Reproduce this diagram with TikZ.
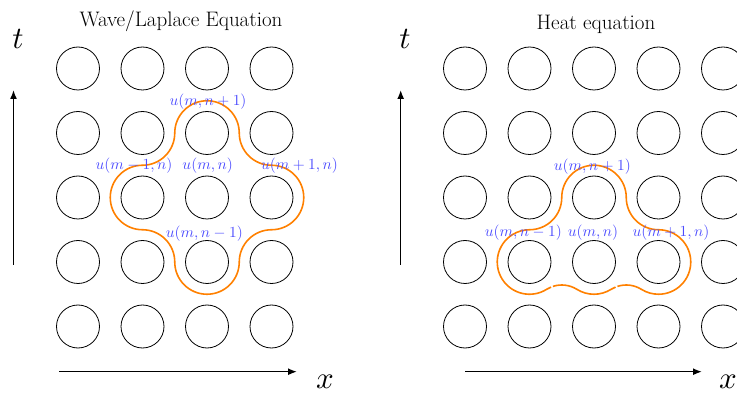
\documentclass[tikz,border=0pt]{standalone}
\usetikzlibrary{arrows.meta}
\DeclareFontShape{OML}{cmm}{m}{it}{<->cmmi10}{}
\DeclareFontShape{OT1}{cmr}{m}{n}{<->cmr10}{}
\DeclareFontShape{OMS}{cmsy}{m}{n}{<->cmsy10}{}
\DeclareFontShape{OMX}{cmex}{m}{n}{<->cmex10}{}
\begin{document}
\begin{tikzpicture}[x=1pt,y=1pt,
  dot/.style={draw=black,line width=0.8pt,circle,minimum size=43pt,inner sep=0pt},
  lab/.style={text=blue!70,font=\fontsize{15.4}{18}\selectfont,inner sep=0pt},
  ttl/.style={font=\fontsize{21}{25}\selectfont,inner sep=0pt,anchor=base},
  axlab/.style={font=\fontsize{31}{36}\selectfont,inner sep=0pt},
  axis/.style={line width=1.5pt,-{Latex[length=9pt,width=7pt]}},
  blob/.style={draw=orange,line width=1.6pt}]
\useasboundingbox (0,0) rectangle (737,394);
% grids
\foreach \i in {1,...,4}{\foreach \j in {1,...,5}{
  \node[dot] (L-\i-\j) at ({78+64.5*(\i-1)},{390-64.5*\j}) {};}}
\foreach \i in {1,...,5}{\foreach \j in {1,...,5}{
  \node[dot] (R-\i-\j) at ({465+64.5*(\i-1)},{390-64.5*\j}) {};}}
% titles
\node[ttl] (t1) at (181,367) {Wave/Laplace Equation};
\node[ttl] (t2) at (596,364) {Heat equation};
% axes
\coordinate (vl0) at (13.5,129);
\coordinate (vl1) at (13.5,304);
\coordinate (hl0) at (59,22.3);
\coordinate (hl1) at (297,22.3);
\coordinate (vr0) at (400.7,129);
\coordinate (vr1) at (400.7,304);
\coordinate (hr0) at (465,22.3);
\coordinate (hr1) at (702,22.3);
\draw[axis] (vl0) -- (vl1);
\draw[axis] (hl0) -- (hl1);
\draw[axis] (vr0) -- (vr1);
\draw[axis] (hr0) -- (hr1);
\node[axlab] (tl) at (18,355) {$t$};
\node[axlab] (xl) at (325,12) {$x$};
\node[axlab] (tr) at (405,355) {$t$};
\node[axlab] (xr) at (728,12) {$x$};
% wave blob
\draw[blob] (174.75,261)
  arc[start angle=180,end angle=0,radius=32.25pt]
  arc[start angle=180,end angle=270,radius=32.25pt]
  arc[start angle=90,end angle=-90,radius=32.25pt]
  arc[start angle=90,end angle=180,radius=32.25pt]
  arc[start angle=0,end angle=-180,radius=32.25pt]
  arc[start angle=0,end angle=90,radius=32.25pt]
  arc[start angle=-90,end angle=-270,radius=32.25pt]
  arc[start angle=-90,end angle=0,radius=32.25pt] -- cycle;
% heat blob (two pieces with small breaks, as in the reference)
\draw[blob] ([shift={(561.75,80.4)}]112:28.6pt)
  arc[start angle=112,end angle=122,radius=28.6pt]
  arc[start angle=-58,end angle=-270,radius=32.25pt]
  arc[start angle=-90,end angle=0,radius=32.25pt]
  arc[start angle=180,end angle=0,radius=32.25pt]
  arc[start angle=180,end angle=270,radius=32.25pt]
  arc[start angle=90,end angle=-122,radius=32.25pt]
  arc[start angle=58,end angle=108,radius=28.6pt]
  ([shift={(626.25,80.4)}]112:28.6pt)
  arc[start angle=112,end angle=122,radius=28.6pt]
  arc[start angle=-58,end angle=-122,radius=32.25pt]
  arc[start angle=58,end angle=108,radius=28.6pt];
% labels left
\node[lab] (a1) at (208,292.5) {$u(m,n+1)$};
\node[lab] (a2) at (134,228) {$u(m-1,n)$};
\node[lab] (a3) at (207.7,228) {$u(m,n)$};
\node[lab] (a4) at (299.5,228) {$u(m+1,n)$};
\node[lab] (a5) at (204.3,160) {$u(m,n-1)$};
% labels right
\node[lab] (b1) at (592.3,227.5) {$u(m,n+1)$};
\node[lab] (b2) at (523.3,161.5) {$u(m,n-1)$};
\node[lab] (b3) at (593,161.5) {$u(m,n)$};
\node[lab] (b4) at (671,161.5) {$u(m+1,n)$};
\end{tikzpicture}
\end{document}
